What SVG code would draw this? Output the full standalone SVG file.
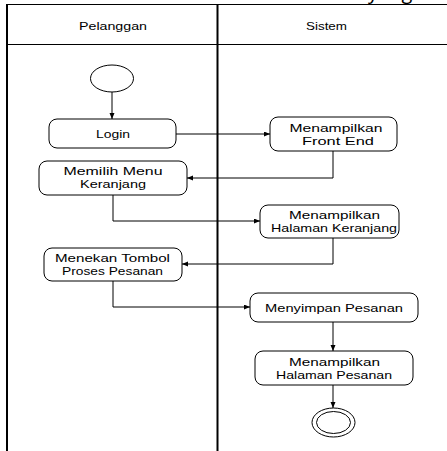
<svg xmlns="http://www.w3.org/2000/svg" width="447" height="451" viewBox="0 0 447 451">
  <style>
    .frame { stroke: #000; fill: none; }
    .act { fill: #fff; stroke: #000; stroke-width: 1; }
    .lbl { font-family: "Liberation Sans", Arial, sans-serif; font-size: 11px; fill: #000; text-anchor: middle; }
    .edge { fill: none; stroke: #000; stroke-width: 1; marker-end: url(#arrow); }
  </style>
  <defs>
    <marker id="arrow" markerUnits="userSpaceOnUse" markerWidth="7" markerHeight="6" refX="6" refY="2.5" orient="auto">
      <path d="M0,0 L6,2.5 L0,5 Z" fill="#000"/>
    </marker>
  </defs>
  <rect width="447" height="451" fill="#fff"/>

  <!-- caption text running off the top edge -->
  <text x="368" y="-1.5" font-family="Open Sans, Liberation Sans, sans-serif" font-size="20" fill="#000">yang</text>

  <!-- swimlane frame -->
  <g id="lanes">
    <line class="frame" x1="7" y1="4.5" x2="447" y2="4.5" stroke="#333"/>
    <line class="frame" x1="7" y1="44.5" x2="447" y2="44.5" stroke="#444"/>
    <line class="frame" x1="7" y1="4" x2="7" y2="451" stroke-width="2"/>
    <line class="frame" x1="217.5" y1="4" x2="217.5" y2="451" stroke-width="2"/>
    <text class="lbl" x="113" y="30" textLength="68" lengthAdjust="spacingAndGlyphs">Pelanggan</text>
    <text class="lbl" x="326.5" y="30" textLength="41" lengthAdjust="spacingAndGlyphs">Sistem</text>
  </g>

  <!-- connectors -->
  <g id="connectors">
    <path class="edge" d="M112,92 L112,119"/>
    <path class="edge" d="M176,134 L270,134"/>
    <path class="edge" d="M333,151 L333,178 L187,178"/>
    <path class="edge" d="M113,195 L113,221 L260,221"/>
    <path class="edge" d="M333,238 L333,264 L182,264"/>
    <path class="edge" d="M113,281 L113,307 L250,307"/>
    <path class="edge" d="M333,322 L333,351"/>
    <path class="edge" d="M333,385 L333,408"/>
  </g>

  <g id="start">
    <ellipse cx="112" cy="78.5" rx="21.5" ry="13.5" fill="#fff" stroke="#000"/>
  </g>

  <g id="login">
    <rect class="act" x="49" y="119" width="127" height="29" rx="8"/>
    <text class="lbl" x="113" y="138" textLength="34" lengthAdjust="spacingAndGlyphs">Login</text>
  </g>

  <g id="front-end">
    <rect class="act" x="270" y="117" width="127" height="34" rx="8"/>
    <text class="lbl" x="336" y="132" textLength="93" lengthAdjust="spacingAndGlyphs">Menampilkan</text>
    <text class="lbl" x="338" y="145" textLength="72" lengthAdjust="spacingAndGlyphs">Front End</text>
  </g>

  <g id="pilih-keranjang">
    <rect class="act" x="39" y="161" width="148" height="34" rx="8"/>
    <text class="lbl" x="113" y="175" textLength="99" lengthAdjust="spacingAndGlyphs">Memilih Menu</text>
    <text class="lbl" x="113" y="188" textLength="66" lengthAdjust="spacingAndGlyphs">Keranjang</text>
  </g>

  <g id="halaman-keranjang">
    <rect class="act" x="260" y="205" width="139" height="33" rx="8"/>
    <text class="lbl" x="334.5" y="218.5" textLength="91" lengthAdjust="spacingAndGlyphs">Menampilkan</text>
    <text class="lbl" x="334" y="231.5" textLength="126" lengthAdjust="spacingAndGlyphs">Halaman Keranjang</text>
  </g>

  <g id="proses-pesanan">
    <rect class="act" x="44" y="248" width="138" height="33" rx="8"/>
    <text class="lbl" x="112.5" y="261.5" textLength="115" lengthAdjust="spacingAndGlyphs">Menekan Tombol</text>
    <text class="lbl" x="112.5" y="274.5" textLength="101" lengthAdjust="spacingAndGlyphs">Proses Pesanan</text>
  </g>

  <g id="simpan-pesanan">
    <rect class="act" x="250" y="293" width="168" height="29" rx="8"/>
    <text class="lbl" x="334" y="312" textLength="138" lengthAdjust="spacingAndGlyphs">Menyimpan Pesanan</text>
  </g>

  <g id="halaman-pesanan">
    <rect class="act" x="255" y="351" width="158" height="34" rx="8"/>
    <text class="lbl" x="334.5" y="365.5" textLength="91" lengthAdjust="spacingAndGlyphs">Menampilkan</text>
    <text class="lbl" x="334" y="378.5" textLength="116" lengthAdjust="spacingAndGlyphs">Halaman Pesanan</text>
  </g>

  <g id="end">
    <ellipse cx="333.5" cy="422.5" rx="21.5" ry="14.5" fill="#fff" stroke="#000"/>
    <ellipse cx="333.5" cy="422.5" rx="17" ry="11" fill="none" stroke="#000"/>
  </g>
</svg>
